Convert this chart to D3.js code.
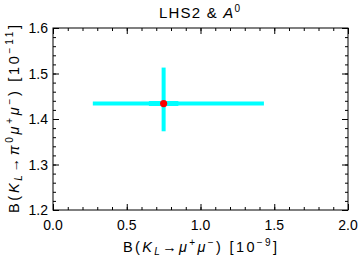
<!DOCTYPE html>
<html>
<head>
<meta charset="utf-8">
<script src="https://cdn.jsdelivr.net/npm/d3@7"></script>
<style>
  body { margin: 0; background: #fff; }
  svg { font-family: "Liberation Sans", Arial, sans-serif; }
</style>
</head>
<body>
<svg id="chart" width="360" height="260"></svg>
<script>
// central value and ranges
const center = [0.75, 1.434];
const xRange = [0.27, 1.43];   // horizontal bar at y = center
const yRange = [1.373, 1.513]; // vertical bar at x = center
const xTicks = [0.0, 0.5, 1.0, 1.5, 2.0];
const yTicks = [1.2, 1.3, 1.4, 1.5, 1.6];

const W = 360, H = 260;
const m = { left: 53, right: 12, top: 28, bottom: 50 };

const svg = d3.select('#chart');
const x = d3.scaleLinear().domain([0, 2]).range([m.left, W - m.right]);
const y = d3.scaleLinear().domain([1.2, 1.6]).range([H - m.bottom, m.top]);

const xMinor = d3.range(0, 2.0001, 0.1);
const yMinor = d3.range(1.2, 1.6001, 0.02);

// ticks, all inward, on four sides
function ticks(axisFn, scale, values, size, transform) {
  svg.append('g')
    .attr('transform', transform)
    .call(axisFn(scale).tickValues(values).tickSize(size).tickFormat(''))
    .call(g => g.select('.domain').remove())
    .call(g => g.selectAll('line').attr('stroke', '#000'));
}
ticks(d3.axisTop, x, xMinor, 3, `translate(0,${y(1.2)})`);
ticks(d3.axisTop, x, xTicks, 6, `translate(0,${y(1.2)})`);
ticks(d3.axisBottom, x, xMinor, 3, `translate(0,${y(1.6)})`);
ticks(d3.axisBottom, x, xTicks, 6, `translate(0,${y(1.6)})`);
ticks(d3.axisRight, y, yMinor, 3, `translate(${x(0)},0)`);
ticks(d3.axisRight, y, yTicks, 6, `translate(${x(0)},0)`);
ticks(d3.axisLeft, y, yMinor, 3, `translate(${x(2)},0)`);
ticks(d3.axisLeft, y, yTicks, 6, `translate(${x(2)},0)`);

// tick labels
svg.append('g').selectAll('text').data(xTicks).join('text')
  .attr('x', d => x(d)).attr('y', y(1.2) + 20)
  .attr('text-anchor', 'middle').attr('font-size', 14)
  .text(d => d.toFixed(1));
svg.append('g').selectAll('text').data(yTicks).join('text')
  .attr('x', x(0) - 5).attr('y', d => y(d) + 5)
  .attr('text-anchor', 'end').attr('font-size', 14)
  .text(d => d.toFixed(1));

// frame
svg.append('rect')
  .attr('x', x(0)).attr('y', y(1.6))
  .attr('width', x(2) - x(0)).attr('height', y(1.2) - y(1.6))
  .attr('fill', 'none').attr('stroke', '#000').attr('stroke-width', 1);

// cross
svg.append('line')
  .attr('x1', x(xRange[0])).attr('x2', x(xRange[1]))
  .attr('y1', y(center[1])).attr('y2', y(center[1]))
  .attr('stroke', '#00ffff').attr('stroke-width', 4);
svg.append('line')
  .attr('x1', x(center[0])).attr('x2', x(center[0]))
  .attr('y1', y(yRange[0])).attr('y2', y(yRange[1]))
  .attr('stroke', '#00ffff').attr('stroke-width', 4);
svg.append('line')
  .attr('x1', x(center[0] - 0.1)).attr('x2', x(center[0] + 0.1))
  .attr('y1', y(center[1])).attr('y2', y(center[1]))
  .attr('stroke', '#00ffff').attr('stroke-width', 5);
svg.append('circle')
  .attr('cx', x(center[0])).attr('cy', y(center[1])).attr('r', 3.6)
  .attr('fill', '#ff0000');

// title
const t = svg.append('text')
  .attr('x', 159).attr('y', 18)
  .attr('textLength', 81).attr('lengthAdjust', 'spacing')
  .attr('font-size', 15);
t.append('tspan').text('LHS2 & ');
t.append('tspan').attr('font-style', 'italic').text('A');
t.append('tspan').attr('font-size', 10).attr('dy', -6).text('0');

// x label
const xl = svg.append('text')
  .attr('x', 123).attr('y', 252)
  .attr('textLength', 154).attr('lengthAdjust', 'spacing')
  .attr('font-size', 14.5);
xl.append('tspan').text('B(');
xl.append('tspan').attr('font-style', 'italic').text('K');
xl.append('tspan').attr('font-style', 'italic').attr('font-size', 10).attr('dy', 3).text('L');
xl.append('tspan').attr('dy', -3).text('\u2192');
xl.append('tspan').attr('font-style', 'italic').text('\u03bc');
xl.append('tspan').attr('font-size', 10).attr('dy', -6).text('+');
xl.append('tspan').attr('font-style', 'italic').attr('dy', 6).text('\u03bc');
xl.append('tspan').attr('font-size', 10).attr('dy', -6).text('\u2212');
xl.append('tspan').attr('dy', 6).text(') [10');
xl.append('tspan').attr('font-size', 10).attr('dy', -6).text('\u22129');
xl.append('tspan').attr('dy', 6).text(']');

// y label
const yl = svg.append('text')
  .attr('transform', `translate(19,213) rotate(-90)`)
  .attr('textLength', 188).attr('lengthAdjust', 'spacing')
  .attr('font-size', 14.5);
yl.append('tspan').text('B(');
yl.append('tspan').attr('font-style', 'italic').text('K');
yl.append('tspan').attr('font-style', 'italic').attr('font-size', 10).attr('dy', 3).text('L');
yl.append('tspan').attr('dy', -3).text('\u2192');
yl.append('tspan').attr('font-style', 'italic').text('\u03c0');
yl.append('tspan').attr('font-size', 10).attr('dy', -6).text('0');
yl.append('tspan').attr('font-style', 'italic').attr('dy', 6).text('\u03bc');
yl.append('tspan').attr('font-size', 10).attr('dy', -6).text('+');
yl.append('tspan').attr('font-style', 'italic').attr('dy', 6).text('\u03bc');
yl.append('tspan').attr('font-size', 10).attr('dy', -6).text('\u2212');
yl.append('tspan').attr('dy', 6).text(') [10');
yl.append('tspan').attr('font-size', 10).attr('dy', -6).text('\u221211');
yl.append('tspan').attr('dy', 6).text(']');
</script>
</body>
</html>
